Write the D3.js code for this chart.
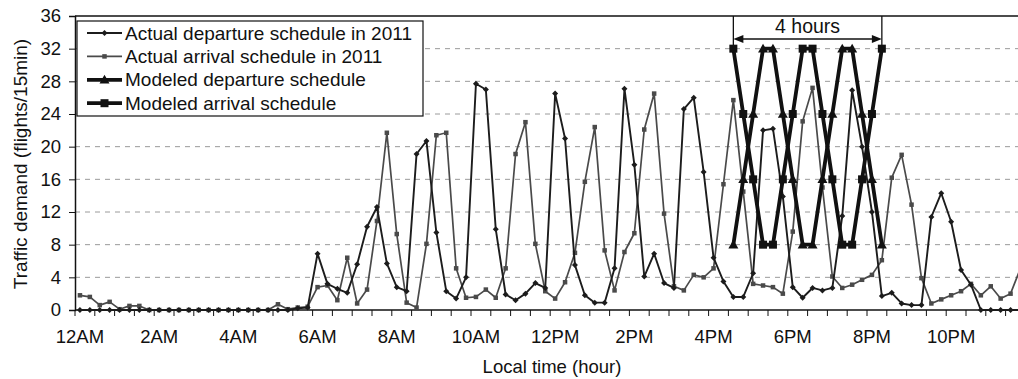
<!DOCTYPE html>
<html>
<head>
<meta charset="utf-8">
<script src="https://cdn.jsdelivr.net/npm/d3@7"></script>
<style>
  html, body { margin: 0; padding: 0; background: #fff; }
  svg { display: block; font-family: "Liberation Sans", Arial, sans-serif; }
</style>
</head>
<body>
<svg id="chart" width="1018" height="379"></svg>
<script>
// ---- Data (flights per 15-minute slot, slot 0 = 12:00AM) ----
const slotCount = 96;
const tickLabels = ["12AM","2AM","4AM","6AM","8AM","10AM","12PM","2PM","4PM","6PM","8PM","10PM"];
const yTicks = [0,4,8,12,16,20,24,28,32,36];

const actualDeparture = [
  0,0,0,0,0,0,0,0, 0,0,0,0,0,0,0,0, 0,0,0,0,0,0,0.2,0.3,
  6.9,3.2,2.6,2.1,5.6,10.2,12.6,5.7, 2.8,2.3,19.1,20.7,9.5,2.3,1.4,4.0,
  27.7,27.0,9.9,1.9,1.2,2.0,3.3,2.7, 26.5,21.0,5.5,1.8,0.9,0.9,5.1,27.1,
  17.8,4.1,6.9,3.3,2.7,24.6,26.0,16.9, 6.4,3.5,1.6,1.6,4.5,22.0,22.2,13.9,
  2.8,1.5,2.7,2.4,2.7,11.5,26.9,20.0, 12.0,1.7,2.1,0.8,0.6,0.6,11.4,14.3,
  10.8,4.9,3.1,0,0,0,0,0
];
const actualArrival = [
  1.8,1.6,0.6,1.0,0.1,0.5,0.5,0, 0,0,0,0,0,0,0,0, 0,0,0,0,0.7,0.1,0.3,0.4,
  2.8,3.0,1.2,6.4,0.8,2.5,10.9,21.7, 9.3,0.9,0.3,8.1,21.4,21.7,5.1,1.5,
  1.6,2.5,1.5,5.1,19.1,23.0,8.1,2.3, 1.4,3.4,7.0,15.7,22.4,7.3,2.4,7.1,
  9.4,22.1,26.5,11.8,2.9,2.4,4.3,4.0, 5.1,15.4,25.7,14.5,3.2,3.0,2.8,2.0,
  9.6,23.1,27.2,15.0,4.1,2.7,3.1,3.7, 4.3,6.1,16.2,19.0,12.9,3.9,0.8,1.3,
  1.8,2.3,3.2,1.8,2.9,1.4,2.0,5.1
];
const modeledStartSlot = 66; // 4:30PM
const modeledDeparture = [8,16,24,32,32,24,16,8,8,16,24,32,32,24,16,8];
const modeledArrival   = [32,24,16,8,8,16,24,32,32,24,16,8,8,16,24,32];

const legendLabels = [
  "Actual departure schedule in 2011",
  "Actual arrival schedule in 2011",
  "Modeled departure schedule",
  "Modeled arrival schedule"
];

// ---- Layout ----
const svg = d3.select("#chart");
const plotLeft = 75, plotBottom = 310, plotTop = 16, plotRight = 1018;
const band = 9.9;
const slots = d3.range(slotCount);
const x = d3.scaleBand().domain(slots).range([plotLeft, plotLeft + band * slotCount]).paddingInner(0).paddingOuter(0);
const cx = i => x(i) + x.bandwidth() / 2;
const y = d3.scaleLinear().domain([0, 36]).range([plotBottom, plotTop]);

// gridlines
svg.append("g").selectAll("line").data(yTicks.filter(t => t > 0 && t < 36)).join("line")
  .attr("x1", plotLeft).attr("x2", plotRight)
  .attr("y1", d => y(d)).attr("y2", d => y(d))
  .attr("stroke", "#9a9a9a").attr("stroke-width", 1).attr("stroke-dasharray", "5,5");

// top border
svg.append("line").attr("x1", plotLeft).attr("x2", plotRight).attr("y1", y(36)).attr("y2", y(36))
  .attr("stroke", "#111").attr("stroke-width", 1.5);

// y axis
const yAxis = d3.axisLeft(y).tickValues(yTicks).tickSize(6).tickPadding(8);
const gy = svg.append("g").attr("transform", `translate(${plotLeft},0)`).call(yAxis);
gy.select(".domain").attr("stroke", "#111").attr("stroke-width", 1.5);
gy.selectAll(".tick line").attr("stroke", "#111");
gy.selectAll("text").attr("font-size", 18.5).attr("fill", "#111")
  .attr("font-family", '"Liberation Sans", Arial, sans-serif');

// x axis line and ticks (ticks between every 2 slots)
svg.append("line").attr("x1", plotLeft).attr("x2", plotRight).attr("y1", plotBottom).attr("y2", plotBottom)
  .attr("stroke", "#111").attr("stroke-width", 1.5);
const tickSlots = d3.range(0, slotCount, 2);
svg.append("g").selectAll("line").data(tickSlots).join("line")
  .attr("x1", d => x(d)).attr("x2", d => x(d))
  .attr("y1", plotBottom).attr("y2", plotBottom + 6)
  .attr("stroke", "#111").attr("stroke-width", 1);
svg.append("g").selectAll("text").data(tickLabels).join("text")
  .attr("x", (d, k) => cx(k * 8)).attr("y", 343)
  .attr("text-anchor", "middle").attr("font-size", 18.5).attr("fill", "#111")
  .text(d => d);

// axis titles
svg.append("text").attr("x", 552).attr("y", 373).attr("text-anchor", "middle")
  .attr("font-size", 18.5).attr("fill", "#111").text("Local time (hour)");
svg.append("text").attr("transform", "translate(27,164) rotate(-90)")
  .attr("text-anchor", "middle").attr("font-size", 19).attr("fill", "#111")
  .text("Traffic demand (flights/15min)");

// ---- series ----
const line = d3.line().x(d => cx(d.i)).y(d => y(d.v));
const toPts = (arr, start = 0) => arr.map((v, k) => ({ i: start + k, v }));

const series = [
  { name: legendLabels[1], pts: toPts(actualArrival), color: "#4a4a4a", width: 1.7, marker: "square", msize: 4.5 },
  { name: legendLabels[0], pts: toPts(actualDeparture), color: "#1c1c1c", width: 1.9, marker: "diamond", msize: 5 },
  { name: legendLabels[3], pts: toPts(modeledArrival, modeledStartSlot), color: "#111", width: 3.8, marker: "square", msize: 8 },
  { name: legendLabels[2], pts: toPts(modeledDeparture, modeledStartSlot), color: "#111", width: 3.8, marker: "triangle", msize: 8 }
];

function drawMarker(g, type, px, py, s, color) {
  if (type === "square") {
    g.append("rect").attr("x", px - s / 2).attr("y", py - s / 2).attr("width", s).attr("height", s).attr("fill", color);
  } else if (type === "diamond") {
    const h = s / 2 + 0.5;
    g.append("path").attr("d", `M${px},${py - h}L${px + h},${py}L${px},${py + h}L${px - h},${py}Z`).attr("fill", color);
  } else {
    const h = s / 2 + 1;
    g.append("path").attr("d", `M${px},${py - h}L${px + h},${py + h * 0.75}L${px - h},${py + h * 0.75}Z`).attr("fill", color);
  }
}

series.forEach(s => {
  const g = svg.append("g");
  g.append("path").datum(s.pts).attr("d", line).attr("fill", "none")
    .attr("stroke", s.color).attr("stroke-width", s.width).attr("stroke-linejoin", "round");
  s.pts.forEach(p => drawMarker(g, s.marker, cx(p.i), y(p.v), s.msize, s.color));
});

// ---- "4 hours" annotation ----
const xa = cx(modeledStartSlot), xb = cx(modeledStartSlot + modeledDeparture.length - 1);
const ann = svg.append("g");
[xa, xb].forEach(xx => ann.append("line").attr("x1", xx).attr("x2", xx).attr("y1", y(36)).attr("y2", y(32))
  .attr("stroke", "#111").attr("stroke-width", 1.3));
const ay = 39;
ann.append("line").attr("x1", xa + 8).attr("x2", xb - 8).attr("y1", ay).attr("y2", ay)
  .attr("stroke", "#111").attr("stroke-width", 1.5);
ann.append("path").attr("d", `M${xa},${ay}L${xa + 10},${ay - 4}L${xa + 10},${ay + 4}Z`).attr("fill", "#111");
ann.append("path").attr("d", `M${xb},${ay}L${xb - 10},${ay - 4}L${xb - 10},${ay + 4}Z`).attr("fill", "#111");
ann.append("text").attr("x", (xa + xb) / 2).attr("y", 33).attr("text-anchor", "middle")
  .attr("font-size", 19.5).attr("fill", "#111").text("4 hours");

// ---- legend ----
const lg = svg.append("g");
lg.append("rect").attr("x", 77).attr("y", 21).attr("width", 346).attr("height", 95)
  .attr("fill", "#fff").attr("stroke", "#111").attr("stroke-width", 1.2);
const legendOrder = [series[1], series[0], series[3], series[2]];
legendOrder.forEach((s, k) => {
  const ry = 33 + k * 23.4;
  lg.append("line").attr("x1", 87).attr("x2", 122).attr("y1", ry).attr("y2", ry)
    .attr("stroke", s.color).attr("stroke-width", s.width);
  drawMarker(lg, s.marker, 104.5, ry, s.msize, s.color);
  lg.append("text").attr("x", 125).attr("y", ry).attr("dy", "0.35em")
    .attr("font-size", 19).attr("fill", "#111").text(legendLabels[k]);
});
</script>
</body>
</html>
